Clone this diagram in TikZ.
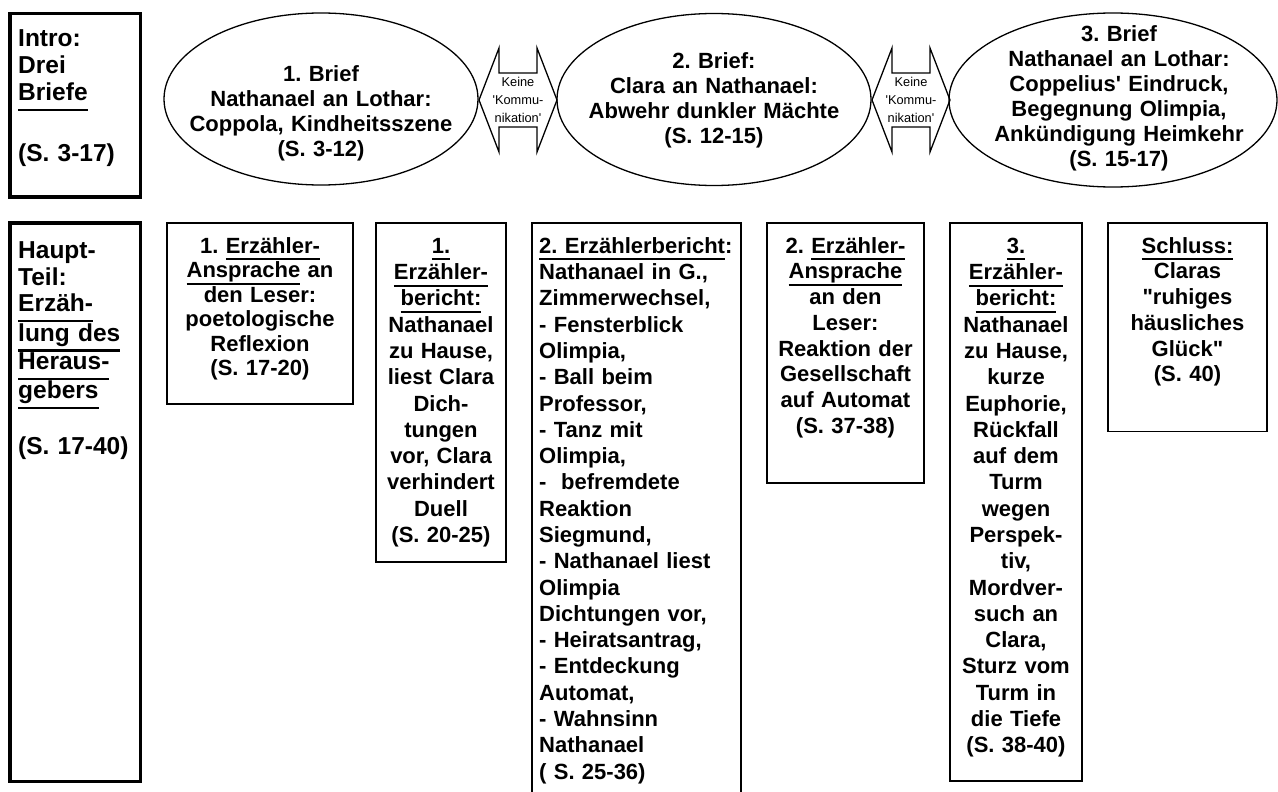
\documentclass[tikz,border=0pt]{standalone}
\usepackage{fontspec}
\setmainfont{Liberation Sans}
\usetikzlibrary{shapes.geometric}
\newcommand\uln[1]{\leavevmode\setbox0\hbox{#1}\rlap{\rule[-7pt]{\wd0}{2pt}}\box0\relax}
\newcommand\ulnb[1]{\leavevmode\setbox0\hbox{#1}\rlap{\rule[-10.5pt]{\wd0}{2.3pt}}\box0\relax}
\newcommand\fh{\rule{0pt}{18pt}}
\newcommand\fhb{\rule{0pt}{20pt}}
\frenchspacing
\begin{document}
\frenchspacing
\begin{tikzpicture}[x=1pt,y=-1pt,
  thickbox/.style={draw, line width=3.5pt, inner sep=0pt},
  thinbox/.style={draw, line width=1.4pt, inner sep=0pt},
  oval/.style={draw, ellipse, line width=1.3pt, inner sep=0pt},
  bigtxt/.style={inner sep=0pt, anchor=north west, align=left, text width=125pt, font=\frenchspacing\bfseries\fontsize{24.5}{26.8}\selectfont},
  ovtxt/.style={inner sep=0pt, anchor=north, align=center, text width=340pt, font=\frenchspacing\bfseries\fontsize{22}{24.9}\selectfont},
  boxtxt/.style={inner sep=0pt, anchor=north, align=center, text width=200pt, font=\frenchspacing\bfseries\fontsize{22}{26.3}\selectfont},
  smalltxt/.style={inner sep=0pt, align=center, text width=60pt, font=\fontsize{12.8}{17.7}\selectfont},
  dblarrow/.style={draw, line width=1.3pt, line join=miter},
]
\useasboundingbox (0,0) rectangle (1278,792);
\fill[white] (0,0) rectangle (1278,792);

% left column
\node[thickbox, minimum width=130.5pt, minimum height=183.3pt] (intro) at (75.25,105.35) {};
\node[bigtxt] (introtxt) at (18,26.7) {\fhb Intro:\\Drei\\\ulnb{Briefe}\\[31.5pt](S. 3-17)};
\node[thickbox, minimum width=130.5pt, minimum height=558.7pt] (haupt) at (75.25,502.15) {};
\node[bigtxt] (haupttxt) at (18,238) {\fhb Haupt-\\Teil:\\\ulnb{Erzäh-}\\\ulnb{lung des}\\\ulnb{Heraus-}\\\ulnb{gebers}\\[26.8pt](S. 17-40)};

% letters
\node[oval, minimum width=314pt, minimum height=172pt] (e1) at (321,99) {};
\node[ovtxt] (e1t) at (321,63.7) {\fh 1. Brief\\Nathanael an Lothar:\\Coppola, Kindheitsszene\\(S. 3-12)};
\node[oval, minimum width=314pt, minimum height=172pt] (e2) at (714,99.5) {};
\node[ovtxt] (e2t) at (714,50.3) {\fh 2. Brief:\\Clara an Nathanael:\\Abwehr dunkler Mächte\\(S. 12-15)};
\node[oval, minimum width=328pt, minimum height=174pt] (e3) at (1113,100) {};
\node[ovtxt] (e3t) at (1119,23.7) {\fh 3. Brief\\Nathanael an Lothar:\\Coppelius\textquotesingle{} Eindruck,\\Begegnung Olimpia,\\Ankündigung Heimkehr\\(S. 15-17)};

% double arrows
\node[smalltxt] (k1) at (518,100) {Keine\\\textquotesingle Kommu-\\nikation\textquotesingle};
\draw[dblarrow, shift={(k1.center)}] (-39,0) -- (-19,-52) -- (-19,-27) -- (19,-27) -- (19,-52) -- (39,0) -- (19,52) -- (19,27) -- (-19,27) -- (-19,52) -- cycle;
\node[smalltxt] (k2) at (911,100) {Keine\\\textquotesingle Kommu-\\nikation\textquotesingle};
\draw[dblarrow, shift={(k2.center)}] (-39,0) -- (-19,-52) -- (-19,-27) -- (19,-27) -- (19,-52) -- (39,0) -- (19,52) -- (19,27) -- (-19,27) -- (-19,52) -- cycle;

% main part boxes
\node[thinbox, minimum width=186pt, minimum height=181pt] (b1) at (260,313.5) {};
\node[boxtxt, font=\frenchspacing\bfseries\fontsize{22}{24.5}\selectfont] (t1) at (260,235) {\fh 1. \uln{Erzähler-}\\\uln{Ansprache} an\\den Leser:\\poetologische\\Reflexion\\(S. 17-20)};

\node[thinbox, minimum width=130pt, minimum height=339pt] (b2) at (441,392.5) {};
\node[boxtxt] (t2) at (441,235) {\fh\uln{1.}\\\uln{Erzähler-}\\\uln{bericht:}\\Nathanael\\zu Hause,\\liest Clara\\Dich-\\tungen\\vor, Clara\\verhindert\\Duell\\(S. 20-25)};

\node[thinbox, minimum width=209pt, minimum height=620pt] (b3) at (636.5,533) {};
\node[boxtxt, anchor=north west, align=left, text width=220pt] (t3) at (539,235) {\fh\uln{2. Erzählerbericht}:\\Nathanael in G.,\\Zimmerwechsel,\\- Fensterblick\\Olimpia,\\- Ball beim\\Professor,\\- Tanz mit\\Olimpia,\\-\ \ befremdete\\Reaktion\\Siegmund,\\- Nathanael liest\\Olimpia\\Dichtungen vor,\\- Heiratsantrag,\\- Entdeckung\\Automat,\\- Wahnsinn\\Nathanael\\( S. 25-36)};

\node[thinbox, minimum width=157pt, minimum height=260pt] (b4) at (845.5,353) {};
\node[boxtxt, font=\frenchspacing\bfseries\fontsize{22}{25.7}\selectfont] (t4) at (845.5,235) {\fh 2. \uln{Erzähler-}\\\uln{Ansprache}\\an den\\Leser:\\Reaktion der\\Gesellschaft\\auf Automat\\(S. 37-38)};

\node[thinbox, minimum width=132pt, minimum height=558pt] (b5) at (1016,502) {};
\node[boxtxt] (t5) at (1016,235) {\fh\uln{3.}\\\uln{Erzähler-}\\\uln{bericht:}\\Nathanael\\zu Hause,\\kurze\\Euphorie,\\Rückfall\\auf dem\\Turm\\wegen\\Perspek-\\tiv,\\Mordver-\\such an\\Clara,\\Sturz vom\\Turm in\\die Tiefe\\(S. 38-40)};

\node[thinbox, minimum width=159pt, minimum height=208.5pt] (b6) at (1187.5,327.25) {};
\node[boxtxt, font=\frenchspacing\bfseries\fontsize{22}{25.7}\selectfont] (t6) at (1187.5,235) {\fh\uln{Schluss:}\\Claras\\\textquotedbl ruhiges\\häusliches\\Glück\textquotedbl\\(S. 40)};
\end{tikzpicture}
\end{document}
